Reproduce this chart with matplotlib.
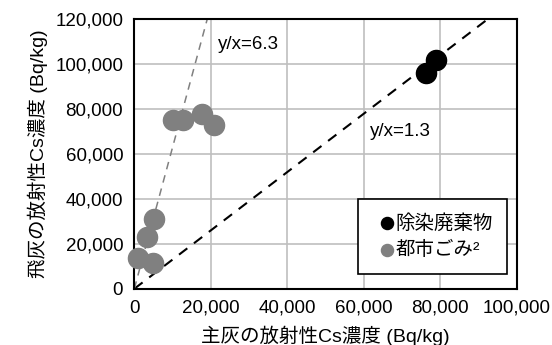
import matplotlib
matplotlib.use("Agg")
import matplotlib.pyplot as plt
import numpy as np

plt.rcParams['font.family'] = ['Liberation Sans', 'Noto Sans CJK JP', 'DejaVu Sans']

# 除染廃棄物 (black points)
decon_x = [76300, 79000]
decon_y = [96000, 102000]

# 都市ごみ (gray points)
msw_x = [900, 4800, 3300, 5200, 10000, 12800, 17700, 20800]
msw_y = [13500, 11300, 22900, 31000, 75000, 75000, 78000, 73000]

ratios = [1.3, 6.3]
x_ticks = [0, 20000, 40000, 60000, 80000, 100000]
y_ticks = [0, 20000, 40000, 60000, 80000, 100000, 120000]

fig = plt.figure(figsize=(5.52, 3.45), dpi=100)
ax = fig.add_axes([0.2433, 0.163, 0.6927, 0.7805])

ax.set_xlim(0, 100000)
ax.set_ylim(0, 120000)
ax.set_xticks(x_ticks)
ax.set_yticks(y_ticks)
ax.xaxis.set_major_formatter(matplotlib.ticker.StrMethodFormatter('{x:,.0f}'))
ax.yaxis.set_major_formatter(matplotlib.ticker.StrMethodFormatter('{x:,.0f}'))
ax.tick_params(length=0, labelsize=13.5, pad=8)
ax.grid(True, color='#bfbfbf', linewidth=1.2)
ax.set_axisbelow(True)
for sp in ax.spines.values():
    sp.set_linewidth(1.5)
    sp.set_color('black')

# ratio lines
x_end = 120000 / ratios[0]
ax.plot([0, x_end], [0, ratios[0] * x_end], color='black', ls=(0, (5, 4)), lw=1.5, zorder=2)
x_end = 120000 / ratios[1]
ax.plot([0, x_end], [0, ratios[1] * x_end], color='#808080', ls=(0, (5, 4)), lw=1.1, zorder=2)

ax.scatter(decon_x, decon_y, s=210, color='black', label='除染廃棄物', zorder=3, clip_on=False)
ax.scatter(msw_x, msw_y, s=210, color='#808080', label='都市ごみ²', zorder=3, clip_on=False)

ax.text(21900, 109000, 'y/x=6.3', fontsize=13.5, va='center')
ax.text(61700, 70000, 'y/x=1.3', fontsize=13.5, va='center')

ax.set_xlabel('主灰の放射性Cs濃度 (Bq/kg)', fontsize=14, labelpad=6)
ax.set_ylabel('飛灰の放射性Cs濃度 (Bq/kg)', fontsize=14, labelpad=5)

leg = ax.legend(loc='lower right', bbox_to_anchor=(0.976, 0.055), fontsize=14,
                markerscale=0.6, handletextpad=-0.34, handlelength=1.5,
                fancybox=False, framealpha=1, edgecolor='black', borderpad=0.75,
                labelspacing=0.45, borderaxespad=0)
leg.get_frame().set_linewidth(1.2)

fig.savefig('out.png', dpi=100)
